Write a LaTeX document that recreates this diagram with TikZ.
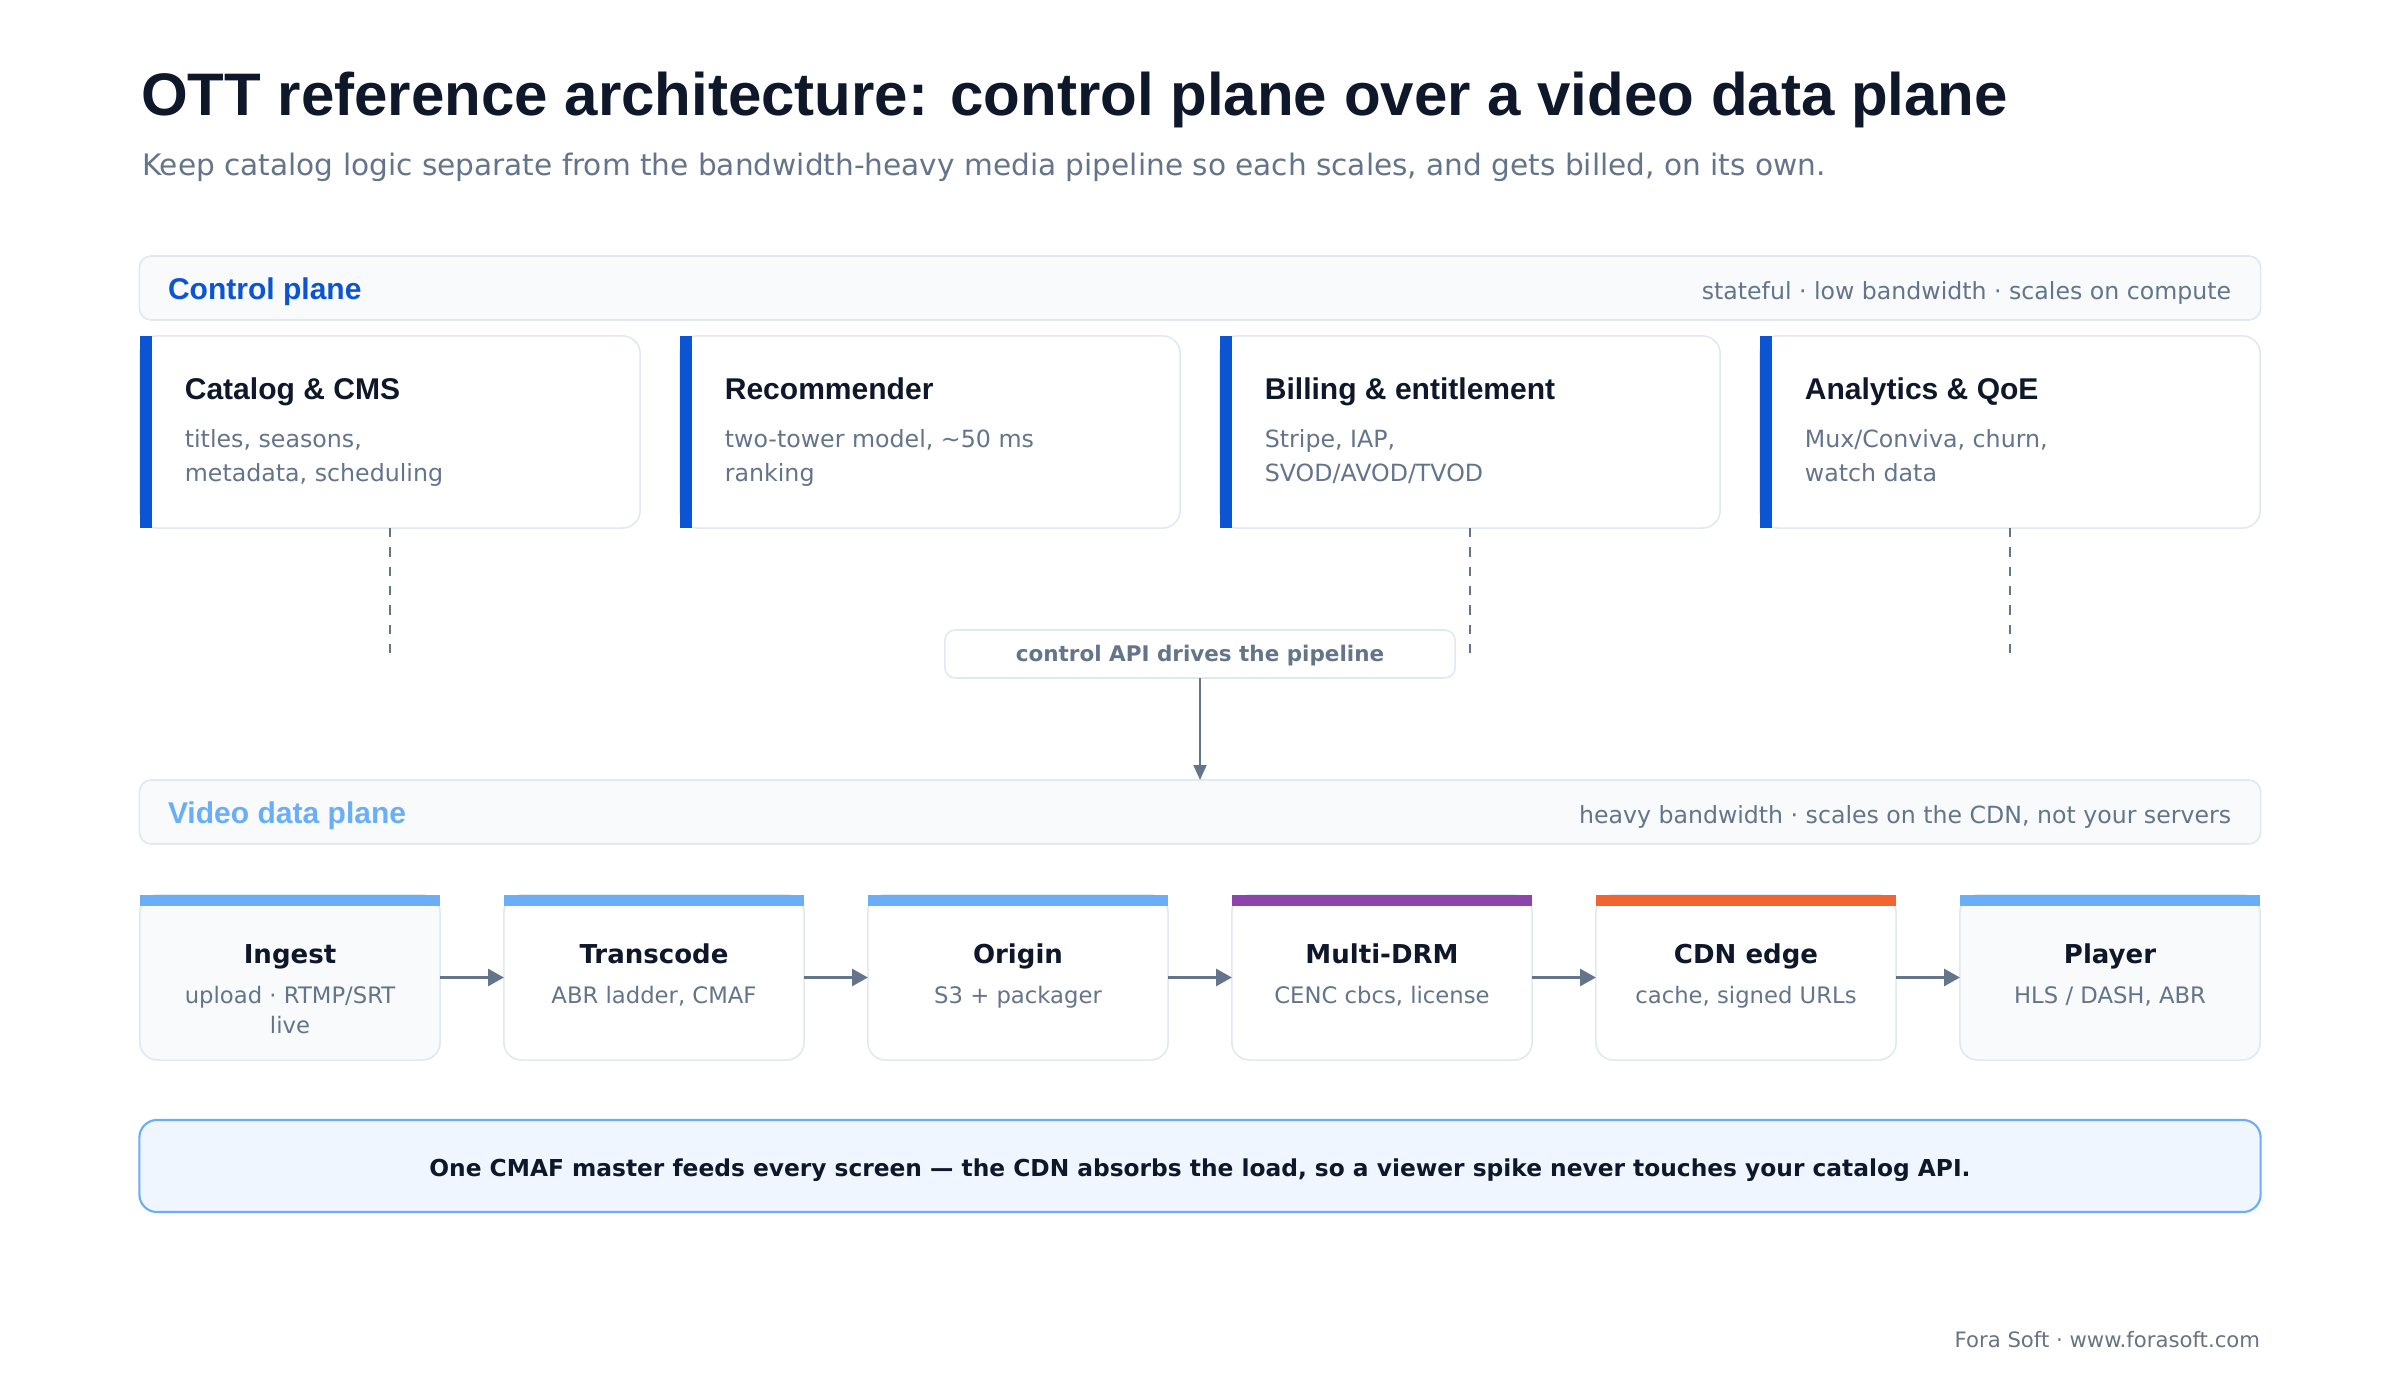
\documentclass[tikz,border=0pt]{standalone}
\usepackage{fontspec}
\setmainfont{DejaVu Sans}
\newfontfamily\arialfam{Liberation Sans}
\usetikzlibrary{arrows.meta}
\definecolor{ink}{HTML}{0F172A}
\definecolor{slate}{HTML}{64748B}
\definecolor{edge}{HTML}{E2E8F0}
\definecolor{panel}{HTML}{F8FAFC}
\definecolor{ctrlblue}{HTML}{0B55D4}
\definecolor{skyblue}{HTML}{6AAEF8}
\definecolor{drmpurple}{HTML}{8E44AD}
\definecolor{cdnorange}{HTML}{F26531}
\definecolor{notefill}{HTML}{EFF6FF}
\definecolor{footgray}{HTML}{6B7280}
\newcommand{\pxfont}[1]{\fontsize{#1pt}{#1pt}\selectfont}
\tikzset{
  every node/.style={inner sep=0pt, outer sep=0pt},
  band/.style={draw=edge, line width=0.45pt, fill=panel, rounded corners=3.4pt,
    minimum width=21.2cm, minimum height=0.64cm},
  card/.style={draw=edge, line width=0.45pt, fill=white, rounded corners=5pt,
    minimum width=5cm, minimum height=1.92cm},
  stage/.style={draw=edge, line width=0.45pt, fill=white, rounded corners=5pt,
    minimum width=3cm, minimum height=1.65cm},
  stagegray/.style={stage, fill=panel},
  apibox/.style={draw=edge, line width=0.45pt, fill=white, rounded corners=3pt,
    minimum width=5.1cm, minimum height=0.48cm},
  notebox/.style={draw=skyblue, line width=0.6pt, fill=notefill, rounded corners=5pt,
    minimum width=21.2cm, minimum height=0.92cm},
  titletext/.style={anchor=base west, text=ink, font=\arialfam\bfseries\pxfont{17.07}},
  subtext/.style={anchor=base west, text=slate, font=\pxfont{8.41}},
  planelabel/.style={anchor=base west, font=\arialfam\bfseries\pxfont{8.54}},
  planenote/.style={anchor=base east, text=slate, font=\pxfont{6.72}},
  cardtitle/.style={anchor=base west, text=ink, font=\arialfam\bfseries\pxfont{8.54}},
  carddesc/.style={anchor=base west, text=slate, font=\pxfont{6.74}},
  stagetitle/.style={anchor=base, text=ink, font=\bfseries\pxfont{7.4}},
  stagedesc/.style={anchor=base, text=slate, font=\pxfont{6.46}},
  apitext/.style={anchor=base, text=slate, font=\bfseries\pxfont{6.11}},
  notetext/.style={anchor=base, text=ink, font=\bfseries\pxfont{6.63}},
  foottext/.style={anchor=base east, text=footgray, font=\pxfont{6.03}},
  accent/.style={fill=ctrlblue},
  flow/.style={draw=slate, line width=0.85pt, -{Triangle[length=4.5pt,width=4.8pt]}},
  apiflow/.style={draw=slate, line width=0.7pt, -{Triangle[length=4.2pt,width=3.6pt]}},
  guide/.style={draw=slate, line width=0.6pt, dash pattern=on 2.6pt off 2.9pt},
}
\begin{document}
\begin{tikzpicture}[x=0.01cm, y=-0.01cm]
\useasboundingbox[fill=white] (0,0) rectangle (2400,1380);

% title
\node[titletext] (title) at (141,116) {OTT reference architecture: control plane over a video data plane};
\node[subtext] (subtitle) at (142,176) {Keep catalog logic separate from the bandwidth-heavy media pipeline so each scales, and gets billed, on its own.};

% control plane band
\node[band] (ctrl) at (1200,288) {};
\node[planelabel, text=ctrlblue] (ctrllabel) at (168,300) {Control plane};
\node[planenote] (ctrlnote) at (2231,300) {stateful · low bandwidth · scales on compute};

% cards
\foreach \n/\cx in {1/390, 2/930, 3/1470, 4/2010} {
  \node[card] (c\n) at (\cx,432) {};
  \fill[accent] (c\n.north west) rectangle ++(12,192);
}
\node[cardtitle] (c1t) at ([shift={(45,64)}]c1.north west) {Catalog \& CMS};
\node[carddesc] (c1a) at ([shift={(45,112)}]c1.north west) {titles, seasons,};
\node[carddesc] (c1b) at ([shift={(45,146)}]c1.north west) {metadata, scheduling};
\node[cardtitle] (c2t) at ([shift={(45,64)}]c2.north west) {Recommender};
\node[carddesc] (c2a) at ([shift={(45,112)}]c2.north west) {two-tower model, \textasciitilde50 ms};
\node[carddesc] (c2b) at ([shift={(45,146)}]c2.north west) {ranking};
\node[cardtitle] (c3t) at ([shift={(45,64)}]c3.north west) {Billing \& entitlement};
\node[carddesc] (c3a) at ([shift={(45,112)}]c3.north west) {Stripe, IAP,};
\node[carddesc] (c3b) at ([shift={(45,146)}]c3.north west) {SVOD/AVOD/TVOD};
\node[cardtitle] (c4t) at ([shift={(45,64)}]c4.north west) {Analytics \& QoE};
\node[carddesc] (c4a) at ([shift={(45,112)}]c4.north west) {Mux/Conviva, churn,};
\node[carddesc] (c4b) at ([shift={(45,146)}]c4.north west) {watch data};

% dashed guides
\coordinate (g1) at (390,654);
\coordinate (g3) at (1470,654);
\coordinate (g4) at (2010,654);
\draw[guide] (c1.south) -- (g1);
\draw[guide] (c3.south) -- (g3);
\draw[guide] (c4.south) -- (g4);

% api label
\node[apibox] (api) at (1200,654) {};
\node[apitext] (apit) at (1200,662) {control API drives the pipeline};

% data plane band
\node[band] (data) at (1200,812) {};
\node[planelabel, text=skyblue] (datalabel) at (168,824) {Video data plane};
\node[planenote] (datanote) at (2231,824) {heavy bandwidth · scales on the CDN, not your servers};

\draw[apiflow] (api.south) -- (data.north);

% stages
\node[stagegray] (s1) at (290,977.5) {};
\node[stage] (s2) at (654,977.5) {};
\node[stage] (s3) at (1018,977.5) {};
\node[stage] (s4) at (1382,977.5) {};
\node[stage] (s5) at (1746,977.5) {};
\node[stagegray] (s6) at (2110,977.5) {};
\foreach \n/\col in {1/skyblue, 2/skyblue, 3/skyblue, 4/drmpurple, 5/cdnorange, 6/skyblue} {
  \fill[\col] (s\n.north west) rectangle ++(300,11);
}
\node[stagetitle] (s1t) at ([shift={(0,69)}]s1.north) {Ingest};
\node[stagedesc] (s1a) at ([shift={(0,109)}]s1.north) {upload · RTMP/SRT};
\node[stagedesc] (s1b) at ([shift={(0,139)}]s1.north) {live};
\node[stagetitle] (s2t) at ([shift={(0,69)}]s2.north) {Transcode};
\node[stagedesc] (s2a) at ([shift={(0,109)}]s2.north) {ABR ladder, CMAF};
\node[stagetitle] (s3t) at ([shift={(0,69)}]s3.north) {Origin};
\node[stagedesc] (s3a) at ([shift={(0,109)}]s3.north) {S3 + packager};
\node[stagetitle] (s4t) at ([shift={(0,69)}]s4.north) {Multi-DRM};
\node[stagedesc] (s4a) at ([shift={(0,109)}]s4.north) {CENC cbcs, license};
\node[stagetitle] (s5t) at ([shift={(0,69)}]s5.north) {CDN edge};
\node[stagedesc] (s5a) at ([shift={(0,109)}]s5.north) {cache, signed URLs};
\node[stagetitle] (s6t) at ([shift={(0,69)}]s6.north) {Player};
\node[stagedesc] (s6a) at ([shift={(0,109)}]s6.north) {HLS / DASH, ABR};

\draw[flow] (s1.east) -- (s2.west);
\draw[flow] (s2.east) -- (s3.west);
\draw[flow] (s3.east) -- (s4.west);
\draw[flow] (s4.east) -- (s5.west);
\draw[flow] (s5.east) -- (s6.west);

% note
\node[notebox] (note) at (1200,1166) {};
\node[notetext] (notet) at (1200,1176) {One CMAF master feeds every screen — the CDN absorbs the load, so a viewer spike never touches your catalog API.};

% footer
\node[foottext] (foot) at (2260,1347) {Fora Soft · www.forasoft.com};
\end{tikzpicture}
\end{document}
